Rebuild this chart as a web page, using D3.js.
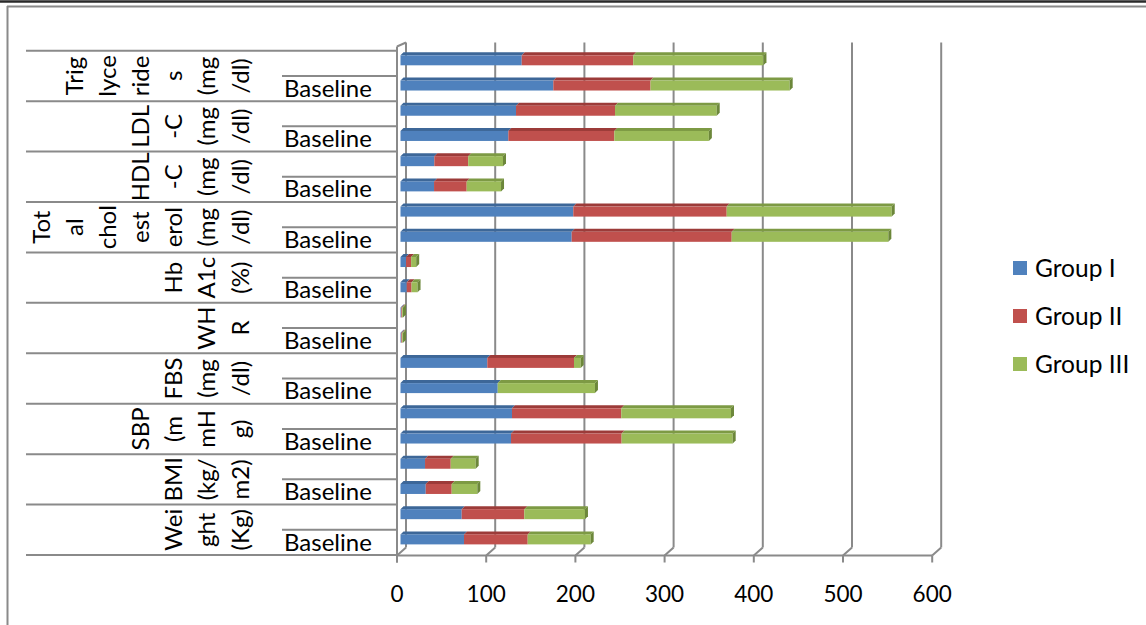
<!DOCTYPE html>
<html><head><meta charset="utf-8">
<script src="https://cdn.jsdelivr.net/npm/d3@7/dist/d3.min.js"></script>
<style>html,body{margin:0;padding:0;background:#fff;}svg{display:block;}</style>
</head><body>
<svg id="c" width="1146" height="625"></svg>
<script>
// Categories in data order (bottom to top)
const categories = ["Weight (Kg)","BMI (kg/m2)","SBP (mmHg)","FBS (mg/dl)","WHR","HbA1c (%)","Total cholesterol (mg/dl)","HDL-C (mg/dl)","LDL-C (mg/dl)","Triglycerides (mg/dl)"];
const categoryLines = [
  ["Wei","ght","(Kg)"],
  ["BMI","(kg/","m2)"],
  ["SBP","(m","mH","g)"],
  ["FBS","(mg","/dl)"],
  ["WH","R"],
  ["Hb","A1c","(%)"],
  ["Tot","al","chol","est","erol","(mg","/dl)"],
  ["HDL","-C","(mg","/dl)"],
  ["LDL","-C","(mg","/dl)"],
  ["Trig","lyce","ride","s","(mg","/dl)"]
];
const subLabels = ["Baseline",""];
const seriesNames = ["Group I","Group II","Group III"];
// values per category: [Baseline, follow-up]
const groupI   = [[71.2,68.6],[28.3,27.5],[123.9,125],[109,97.3],[0.95,0.93],[7.0,6.2],[191.9,193.7],[37.6,37.9],[120.9,129.5],[171.3,135.9]];
const groupII  = [[71.4,70.2],[29.1,28.8],[124,122.5],[0,97.2],[0.94,0.92],[5.4,5.7],[179.4,172],[36.6,38],[118.8,111],[109,125]];
const groupIII = [[70.6,68],[28.7,28],[124.5,123],[109,7.5],[0.95,0.93],[6.7,5.7],[175.6,185],[38.5,39],[106,114],[156,146]];
const xTicks = [0,100,200,300,400,500,600];

const colors = ["#4f81bd","#c0504d","#9bbb59"];
const topCols = ["#3d6798","#9c3b39","#7d9a44"];
const sideCols = ["#365c88","#8a3331","#6c873a"];
const FONT = "Lato, 'Open Sans', sans-serif";

const svg = d3.select("#c");
const gray = "#8a8a8a";

// frame
svg.append("line").attr("x1",0).attr("x2",1146).attr("y1",1.5).attr("y2",1.5).attr("stroke","#2a2a2a").attr("stroke-width",2.5);
svg.append("line").attr("x1",7).attr("x2",1146).attr("y1",6.5).attr("y2",6.5).attr("stroke",gray).attr("stroke-width",2);
svg.append("line").attr("x1",7.5).attr("x2",7.5).attr("y1",6).attr("y2",625).attr("stroke",gray).attr("stroke-width",2);

// scales
const x = d3.scaleLinear().domain([0,600]).range([400.5,935.7]);
const catY = d3.scaleBand().domain(d3.range(categories.length).reverse()).range([50.7,555]);
const rowOrder = [];
for(let i=categories.length-1;i>=0;i--){ rowOrder.push(i+"-1"); rowOrder.push(i+"-0"); }
const rowY = d3.scaleBand().domain(rowOrder).range([50.7,555]);

const FRONT = -3.5, BACK = 5.5; // offsets of front/back planes from bar plane
const floorY = 555.5, backFloorY = 547.5, topY = 42.5;

// back gridlines + floor ticks
const gl = svg.append("g");
xTicks.forEach(t=>{
  const xb = x(t)+BACK, xf = x(t)+FRONT;
  if(t>0) gl.append("line").attr("x1",xb).attr("x2",xb).attr("y1",topY).attr("y2",backFloorY).attr("stroke",gray).attr("stroke-width",2);
  gl.append("line").attr("x1",xb).attr("x2",xf).attr("y1",backFloorY).attr("y2",floorY).attr("stroke",gray).attr("stroke-width",2);
  gl.append("line").attr("x1",xf).attr("x2",xf).attr("y1",floorY).attr("y2",floorY+7).attr("stroke",gray).attr("stroke-width",2);
});
gl.append("line").attr("x1",x(0)+FRONT).attr("x2",x(600)+FRONT).attr("y1",floorY).attr("y2",floorY).attr("stroke",gray).attr("stroke-width",2);
gl.append("line").attr("x1",x(0)+BACK).attr("x2",x(0)+BACK).attr("y1",topY).attr("y2",backFloorY).attr("stroke",gray).attr("stroke-width",2);
gl.append("line").attr("x1",x(0)+FRONT).attr("x2",x(0)+FRONT).attr("y1",topY+4).attr("y2",floorY+7).attr("stroke",gray).attr("stroke-width",2);
gl.append("line").attr("x1",x(0)+FRONT).attr("x2",x(0)+BACK).attr("y1",topY+4).attr("y2",topY).attr("stroke",gray).attr("stroke-width",2);

// x tick labels
svg.append("g").selectAll("text").data(xTicks).join("text")
  .attr("x",d=>x(d)+FRONT).attr("y",602).attr("text-anchor","middle")
  .attr("font-family",FONT).attr("font-size",22.5).attr("fill","#000").text(d=>d);

// label table lines
const lt = svg.append("g");
const axX = x(0)+FRONT;
d3.range(categories.length+1).forEach(k=>{
  const y = 50.7 + k*catY.bandwidth();
  lt.append("line").attr("x1",26).attr("x2",axX).attr("y1",y).attr("y2",y).attr("stroke",gray).attr("stroke-width",2);
});
categories.forEach((c,i)=>{
  const y = catY(i) + catY.bandwidth()/2;
  lt.append("line").attr("x1",282).attr("x2",axX).attr("y1",y).attr("y2",y).attr("stroke",gray).attr("stroke-width",2);
});

// sub labels
const subG = svg.append("g");
categories.forEach((c,i)=>{
  [0,1].forEach(s=>{
    const key = i+"-"+s;
    subG.append("text").attr("x",284).attr("y",rowY(key)+rowY.bandwidth()-4.5)
      .attr("font-family",FONT).attr("font-size",24).attr("fill","#000").text(subLabels[s]);
  });
});

// category labels (rotated, wrapped)
const catG = svg.append("g");
categoryLines.forEach((lines,i)=>{
  const cy = catY(i)+catY.bandwidth()/2;
  const n = lines.length;
  lines.forEach((ln,j)=>{
    const cx = 240 - 33.1*(n-1-j);
    catG.append("text").attr("transform",`translate(${cx+8.5},${cy}) rotate(-90)`)
      .attr("text-anchor","middle").attr("font-family",FONT).attr("font-size",24).attr("fill","#000").text(ln);
  });
});

// bars
const data = [groupI,groupII,groupIII];
const barG = svg.append("g");
const BH = 10, D = 3;
categories.forEach((c,i)=>{
  [0,1].forEach(s=>{
    const key = i+"-"+s;
    const y0 = rowY(key)+rowY.bandwidth()/2 - 8;
    let cum = 0;
    let lastIdx = -1;
    data.forEach((g,k)=>{ if(g[i][s]>0) lastIdx=k; });
    data.forEach((g,k)=>{
      const v = g[i][s];
      if(v<=0) return;
      const xa = x(cum), xb = x(cum+v);
      cum += v;
      barG.append("path").attr("d",`M${xa},${y0}L${xa+D},${y0-D}L${xb+D},${y0-D}L${xb},${y0}Z`).attr("fill",topCols[k]);
      barG.append("rect").attr("x",xa).attr("y",y0).attr("width",xb-xa).attr("height",BH).attr("fill",colors[k]);
      if(k===lastIdx){
        barG.append("path").attr("d",`M${xb},${y0}L${xb+D},${y0-D}L${xb+D},${y0+BH-D}L${xb},${y0+BH}Z`).attr("fill",sideCols[k]);
      }
    });
  });
});

// legend
const lg = svg.append("g");
seriesNames.forEach((n,k)=>{
  const yy = 261 + k*48;
  lg.append("rect").attr("x",1013).attr("y",yy).attr("width",14).attr("height",14).attr("fill",colors[k]);
  lg.append("text").attr("x",1035).attr("y",yy+15.5).attr("font-family",FONT).attr("font-size",24.5).attr("fill","#000").text(n);
});
</script>
</body></html>
